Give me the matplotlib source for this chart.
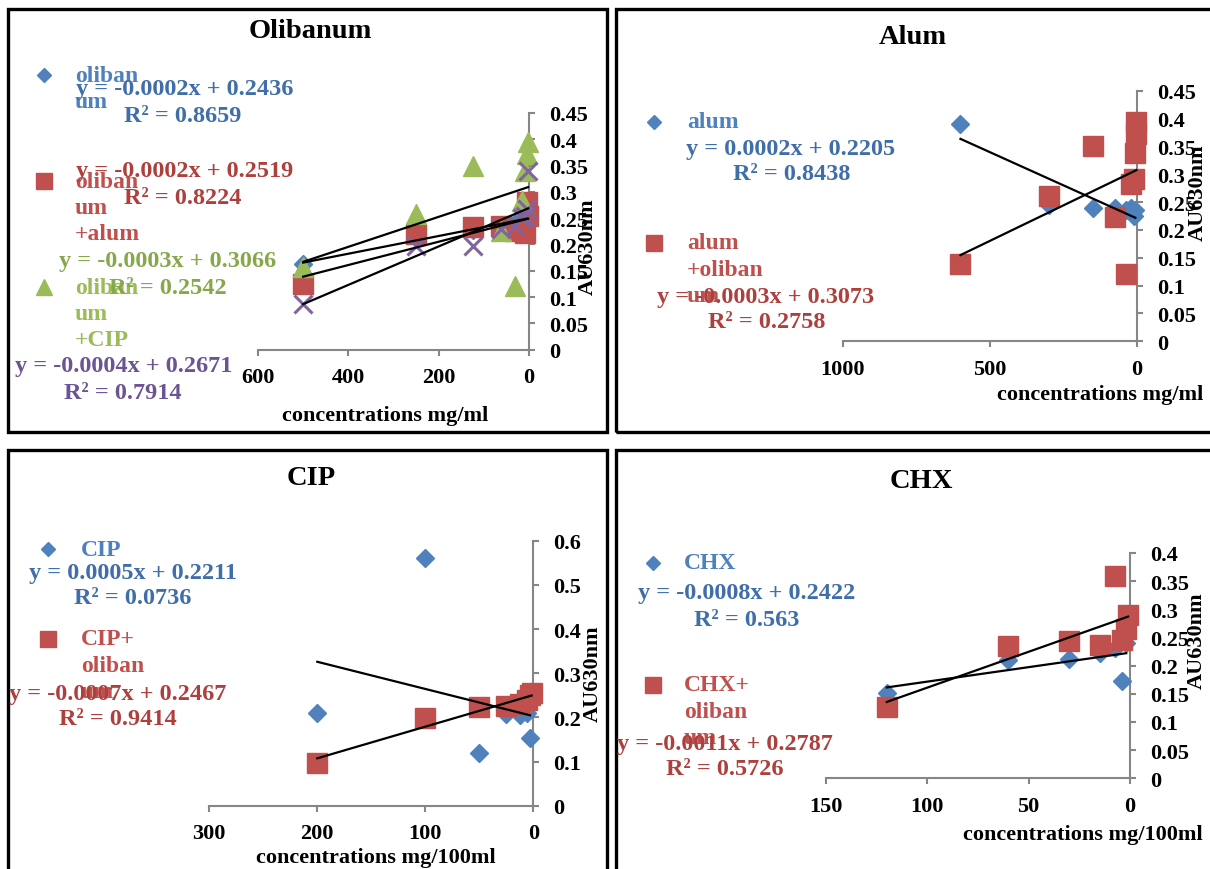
import numpy as np
import matplotlib
matplotlib.use('Agg')
import matplotlib.pyplot as plt
from matplotlib.lines import Line2D
from matplotlib.patches import Rectangle

plt.rcParams['font.family'] = ['Liberation Serif', 'DejaVu Serif']
plt.rcParams['font.weight'] = 'bold'

W, H = 1210, 870

# ---------------- data ----------------
# Olibanum panel
olib_x = [500, 250, 125, 62.5, 31.25, 15.6, 7.8, 3.9]
olib_y = [0.163, 0.215, 0.228, 0.235, 0.24, 0.245, 0.25, 0.255]
olib_alum_x = [500, 250, 125, 62.5, 31.25, 15.6, 7.8, 3.9, 1.95]
olib_alum_y = [0.125, 0.22, 0.233, 0.235, 0.225, 0.23, 0.222, 0.28, 0.255]
olib_cip_x = [500, 250, 125, 62.5, 31.25, 15.6, 7.8, 3.9, 1.95]
olib_cip_y = [0.157, 0.258, 0.35, 0.226, 0.121, 0.283, 0.34, 0.372, 0.395]
olib_chx_x = [500, 250, 125, 62.5, 31.25, 15.6, 7.8, 3.9, 1.95]
olib_chx_y = [0.087, 0.198, 0.198, 0.229, 0.236, 0.25, 0.255, 0.267, 0.34]

# Alum panel
alum_x = [600, 300, 150, 75, 37.5, 18.75, 9.4, 4.7]
alum_y = [0.39, 0.245, 0.24, 0.24, 0.235, 0.24, 0.225, 0.235]
alum_olib_x = [600, 300, 150, 75, 37.5, 18.75, 9.4, 4.7, 2.3, 1.2]
alum_olib_y = [0.139, 0.261, 0.351, 0.223, 0.121, 0.282, 0.291, 0.338, 0.372, 0.393]

# CIP panel
cip_x = [200, 100, 50, 25, 12.5, 6.25, 3.125]
cip_y = [0.209, 0.56, 0.119, 0.208, 0.205, 0.21, 0.153]
cip_olib_x = [200, 100, 50, 25, 12.5, 6.25, 3.125, 1.5625]
cip_olib_y = [0.097, 0.199, 0.223, 0.225, 0.23, 0.24, 0.25, 0.255]

# CHX panel
chx_x = [120, 60, 30, 15, 7.5, 3.75, 1.875]
chx_y = [0.151, 0.21, 0.212, 0.222, 0.232, 0.172, 0.24]
chx_olib_x = [120, 60, 30, 15, 7.5, 3.75, 1.875, 0.94]
chx_olib_y = [0.126, 0.235, 0.244, 0.237, 0.36, 0.245, 0.265, 0.29]

titles = ['Olibanum', 'Alum', 'CIP', 'CHX']
xlabels = ['concentrations mg/ml', 'concentrations mg/ml',
           'concentrations mg/100ml', 'concentrations mg/100ml']
ylabel = 'AU630nm'

# ---------------- styles ----------------
BLUE, RED, GREEN, PURPLE = '#4F81BD', '#C0504D', '#9BBB59', '#8064A2'
TBLUE, TRED, TGREEN, TPURPLE = '#3F6EA8', '#AD403D', '#86A84A', '#6B5493'
GREY = '#868686'
EQ_SIZE = 17.5
style = {
    'D': dict(marker='D', ms=9),
    's': dict(marker='s', ms=15),
    '^': dict(marker='^', ms=14),
    'x': dict(marker='x', ms=13, mew=2.2),
}

fig = plt.figure(figsize=(W / 100, H / 100), dpi=100)


def px2fig(x, y):
    return x / W, 1 - y / H


def make_axes(x0, x1, ytop, ybot):
    return fig.add_axes([x0 / W, 1 - ybot / H, (x1 - x0) / W, (ybot - ytop) / H])


def fig_text(x, y, s, color, size=EQ_SIZE, ha='center', **kw):
    fx, fy = px2fig(x, y)
    fig.text(fx, fy, s, color=color, fontsize=size, ha=ha, va='center',
             fontweight='bold', **kw)


def legend_entry(mx, my, mk, color, lines, tx, spacing=26.5):
    fx, fy = px2fig(mx, my)
    sizes = {'D': 7, 's': 11, '^': 11}
    fig.add_artist(Line2D([fx], [fy], transform=fig.transFigure, marker=mk,
                          ms=sizes[mk], color=color, mec=color, ls='none'))
    for i, ln in enumerate(lines):
        fig_text(tx, my + i * spacing, ln, color, size=17, ha='left')


def setup_axes(ax, xlim, ylim, xticks, yticks, yfmt):
    ax.set_xlim(*xlim)
    ax.set_ylim(*ylim)
    ax.set_xticks(xticks)
    ax.set_xticklabels([str(int(t)) for t in xticks])
    ax.set_yticks(yticks)
    ax.set_yticklabels([yfmt(t) for t in yticks])
    ax.yaxis.tick_right()
    ax.spines['top'].set_visible(False)
    ax.spines['left'].set_visible(False)
    for sp in ('bottom', 'right'):
        ax.spines[sp].set_color(GREY)
        ax.spines[sp].set_linewidth(1.5)
    ax.tick_params(axis='both', direction='out', length=4.5, width=1.5,
                   color=GREY, labelsize=16)
    ax.tick_params(axis='x', pad=8)
    ax.tick_params(axis='y', pad=10)
    for lb in ax.get_xticklabels() + ax.get_yticklabels():
        lb.set_fontweight('bold')
    ax.patch.set_alpha(0)


def plot_series(ax, x, y, mk, color):
    ax.plot(x, y, ls='none', color=color, mec=color, clip_on=False,
            zorder=3, **style[mk])


def trend(ax, x, y):
    x = np.asarray(x, float)
    y = np.asarray(y, float)
    k, b = np.polyfit(x, y, 1)
    xs = np.array([x.min(), x.max()])
    ax.plot(xs, k * xs + b, color='black', lw=1.6, zorder=5, clip_on=False)


def fmt2(t):
    s = f'{t:.2f}'.rstrip('0').rstrip('.')
    return s if s else '0'


def fmt1(t):
    s = f'{t:.1f}'.rstrip('0').rstrip('.')
    return s if s else '0'


def set_label_pos(ax, xlabel, xlabel_px, ylabel_px, rect):
    x0, x1, ytop, ybot = rect
    ax.set_xlabel(xlabel, fontsize=16, fontweight='bold')
    ax.xaxis.set_label_coords((xlabel_px[0] - x0) / (x1 - x0),
                              (ybot - xlabel_px[1]) / (ybot - ytop))
    ax.xaxis.label.set_va('center')
    ax.set_ylabel(ylabel, fontsize=16, fontweight='bold', rotation=90)
    ax.yaxis.set_label_position('right')
    ax.yaxis.set_label_coords((ylabel_px[0] - x0) / (x1 - x0),
                              (ybot - ylabel_px[1]) / (ybot - ytop))
    ax.yaxis.label.set_va('center')
    ax.yaxis.label.set_ha('center')


# ---------------- panel borders ----------------
for (x0, y0, x1, y1) in [(8, 10, 607, 433), (616, 10, 1216, 433),
                         (8, 451, 607, 880), (616, 451, 1216, 880)]:
    fx, fy = px2fig(x0, y1)
    fig.add_artist(Rectangle((fx, fy), (x1 - x0) / W, (y1 - y0) / H,
                             transform=fig.transFigure, fill=False,
                             ec='black', lw=2.4))

# ---------------- Panel 1: Olibanum ----------------
r1 = (258, 529, 114, 350.7)
ax1 = make_axes(*r1)
setup_axes(ax1, (600, 0), (0, 0.45), [600, 400, 200, 0],
           np.round(np.arange(0, 0.451, 0.05), 2), fmt2)
plot_series(ax1, olib_x, olib_y, 'D', BLUE)
plot_series(ax1, olib_alum_x, olib_alum_y, 's', RED)
plot_series(ax1, olib_cip_x, olib_cip_y, '^', GREEN)
plot_series(ax1, olib_chx_x, olib_chx_y, 'x', PURPLE)
for xx, yy in [(olib_x, olib_y), (olib_alum_x, olib_alum_y),
               (olib_cip_x, olib_cip_y), (olib_chx_x, olib_chx_y)]:
    trend(ax1, xx, yy)
set_label_pos(ax1, xlabels[0], (385, 416), (588, 247), r1)
fig_text(310, 32, titles[0], 'black', size=20.5)
legend_entry(44, 76, 'D', BLUE, ['oliban', 'um'], 75)
legend_entry(44, 182, 's', RED, ['oliban', 'um', '+alum'], 75)
legend_entry(44, 288, '^', GREEN, ['oliban', 'um', '+CIP'], 75)
fig_text(185, 89, 'y = -0.0002x + 0.2436', TBLUE)
fig_text(183, 116, 'R² = 0.8659', TBLUE)
fig_text(185, 172, 'y = -0.0002x + 0.2519', TRED)
fig_text(183, 198, 'R² = 0.8224', TRED)
fig_text(168, 261, 'y = -0.0003x + 0.3066', TGREEN)
fig_text(168, 288, 'R² = 0.2542', TGREEN)
fig_text(124, 367, 'y = -0.0004x + 0.2671', TPURPLE)
fig_text(123, 394, 'R² = 0.7914', TPURPLE)

# ---------------- Panel 2: Alum ----------------
r2 = (843, 1136.7, 91.7, 342.3)
ax2 = make_axes(*r2)
setup_axes(ax2, (1000, 0), (0, 0.45), [1000, 500, 0],
           np.round(np.arange(0, 0.451, 0.05), 2), fmt2)
plot_series(ax2, alum_x, alum_y, 'D', BLUE)
plot_series(ax2, alum_olib_x, alum_olib_y, 's', RED)
trend(ax2, alum_x, alum_y)
trend(ax2, alum_olib_x, alum_olib_y)
set_label_pos(ax2, xlabels[1], (1100, 395), (1198, 193), r2)
fig_text(913, 38, titles[1], 'black', size=20.5)
legend_entry(654, 123, 'D', BLUE, ['alum'], 687)
legend_entry(654, 244, 's', RED, ['alum', '+oliban', 'um'], 687)
fig_text(791, 150, 'y = 0.0002x + 0.2205', TBLUE)
fig_text(792, 175, 'R² = 0.8438', TBLUE)
fig_text(766, 297, 'y = -0.0003x + 0.3073', TRED)
fig_text(767, 323, 'R² = 0.2758', TRED)

# ---------------- Panel 3: CIP ----------------
r3 = (209.3, 533.3, 541.7, 806.7)
ax3 = make_axes(*r3)
setup_axes(ax3, (300, 0), (0, 0.6), [300, 200, 100, 0],
           np.round(np.arange(0, 0.61, 0.1), 1), fmt1)
plot_series(ax3, cip_x, cip_y, 'D', BLUE)
plot_series(ax3, cip_olib_x, cip_olib_y, 's', RED)
trend(ax3, cip_x, cip_y)
trend(ax3, cip_olib_x, cip_olib_y)
set_label_pos(ax3, xlabels[2], (376, 858), (593, 674), r3)
fig_text(311, 479, titles[2], 'black', size=20.5)
legend_entry(48, 550, 'D', BLUE, ['CIP'], 81)
legend_entry(48, 640, 's', RED, ['CIP+', 'oliban', 'um'], 81)
fig_text(133, 574, 'y = 0.0005x + 0.2211', TBLUE)
fig_text(133, 599, 'R² = 0.0736', TBLUE)
fig_text(118, 695, 'y = -0.0007x + 0.2467', TRED)
fig_text(118, 720, 'R² = 0.9414', TRED)

# ---------------- Panel 4: CHX ----------------
r4 = (826, 1130, 554, 779.3)
ax4 = make_axes(*r4)
setup_axes(ax4, (150, 0), (0, 0.4), [150, 100, 50, 0],
           np.round(np.arange(0, 0.401, 0.05), 2), fmt2)
plot_series(ax4, chx_x, chx_y, 'D', BLUE)
plot_series(ax4, chx_olib_x, chx_olib_y, 's', RED)
trend(ax4, chx_x, chx_y)
trend(ax4, chx_olib_x, chx_olib_y)
set_label_pos(ax4, xlabels[3], (1083, 835), (1197, 641), r4)
fig_text(921, 482, titles[3], 'black', size=20.5)
legend_entry(653, 564, 'D', BLUE, ['CHX'], 684)
legend_entry(653, 686, 's', RED, ['CHX+', 'oliban', 'um'], 684)
fig_text(747, 594, 'y = -0.0008x + 0.2422', TBLUE)
fig_text(747, 620, 'R² = 0.563', TBLUE)
fig_text(725, 745, 'y = -0.0011x + 0.2787', TRED)
fig_text(725, 770, 'R² = 0.5726', TRED)

fig.savefig('out.png', dpi=100, facecolor='white')
